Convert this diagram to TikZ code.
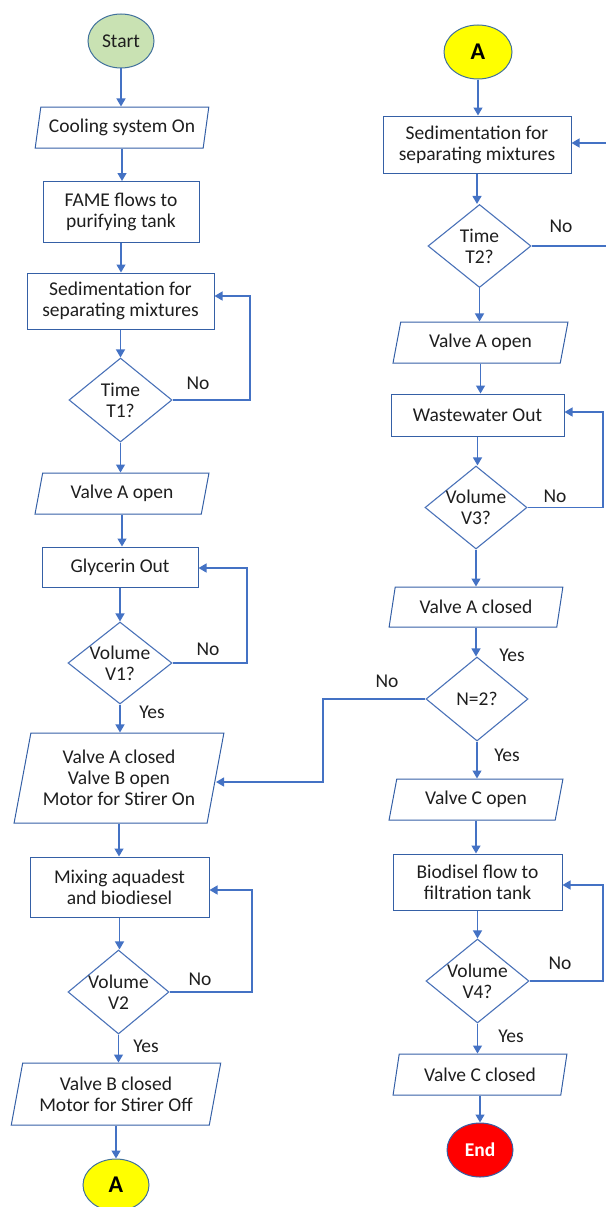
\documentclass[tikz,border=0pt]{standalone}
\usepackage{fontspec}
\setmainfont{Carlito}
\usetikzlibrary{shapes.geometric,arrows.meta}
\definecolor{linec}{HTML}{4472C4}
\definecolor{boxc}{HTML}{3560A6}
\definecolor{decc}{HTML}{4A72B8}
\definecolor{termc}{HTML}{41719C}
\definecolor{txt}{HTML}{1E1E1E}
\definecolor{startfill}{HTML}{C9E2B3}
\definecolor{yel}{HTML}{FFFF00}
\definecolor{redf}{HTML}{FF0000}
\begin{document}
\begin{tikzpicture}[x=1pt,y=-1pt,
  every node/.style={font=\fontsize{19.5}{21}\selectfont, text=txt},
  term/.style={ellipse, draw=termc, line width=1pt, inner sep=0pt, minimum width=66pt, minimum height=54pt},
  proc/.style={rectangle, draw=boxc, line width=1pt, inner sep=0pt, align=center},
  io/.style={trapezium, trapezium left angle=76, trapezium right angle=104, trapezium stretches=true, draw=boxc, line width=1pt, inner sep=2pt, align=center},
  dec/.style={diamond, draw=decc, line width=1.1pt, inner sep=-10pt, align=center},
  lbl/.style={inner sep=0pt},
  conn/.style={font=\fontsize{24}{26}\selectfont\bfseries, text=black},
  arr/.style={draw=linec, line width=1.3pt, -{Triangle[width=9pt,length=8pt]}}
]
\useasboundingbox (0,0) rectangle (605,1207);
% ---------- left column ----------
\node[term, fill=startfill] (start) at (121,41) {Start};
\node[io, minimum width=174pt, minimum height=41pt] (cool) at (122,127.5) {Cooling system On};
\node[proc, minimum width=156pt, minimum height=61pt] (fame) at (121,212) {FAME flows to\\purifying tank};
\node[proc, minimum width=187pt, minimum height=56pt] (sed1) at (120.5,301) {Sedimentation for\\separating mixtures};
\node[dec, minimum width=103pt, minimum height=84pt] (t1) at (120.5,400) {Time\\T1?};
\node[io, minimum width=174pt, minimum height=41pt] (vao1) at (122,493.5) {Valve A open};
\node[proc, minimum width=156pt, minimum height=40pt] (gly) at (120,567) {Glycerin Out};
\node[dec, minimum width=104pt, minimum height=82pt] (v1) at (120,663) {Volume\\V1?};
\node[io, minimum width=210pt, minimum height=90pt] (vac1) at (119,778) {Valve A closed\\Valve B open\\Motor for Stirer On};
\node[proc, minimum width=179pt, minimum height=60pt] (mix) at (119.5,887) {Mixing aquadest\\and biodiesel};
\node[dec, minimum width=101pt, minimum height=84pt] (v2) at (118.5,992) {Volume\\V2};
\node[io, minimum width=210pt, minimum height=62pt] (vbc) at (116,1094) {Valve B closed\\Motor for Stirer Off};
\node[term, fill=yel, minimum height=52pt, conn] (a1) at (116,1185) {A};
% ---------- right column ----------
\node[term, fill=yel, minimum width=68pt, conn] (a2) at (478,52) {A};
\node[proc, minimum width=188pt, minimum height=57pt] (sed2) at (477,144.5) {Sedimentation for\\separating mixtures};
\node[dec, minimum width=103pt, minimum height=83pt] (t2) at (479.5,246) {Time\\T2?};
\node[io, minimum width=175pt, minimum height=41pt] (vao2) at (480.5,342.5) {Valve A open};
\node[proc, minimum width=173pt, minimum height=42pt] (ww) at (477.5,415) {Wastewater Out};
\node[dec, minimum width=102pt, minimum height=83pt] (v3) at (476,507.5) {Volume\\V3?};
\node[io, minimum width=174pt, minimum height=40pt] (vac2) at (476,607) {Valve A closed};
\node[dec, minimum width=102pt, minimum height=84pt] (n2) at (477,699) {N=2?};
\node[io, minimum width=174pt, minimum height=41pt] (vco) at (476,799.5) {Valve C open};
\node[proc, minimum width=169pt, minimum height=56pt] (bio) at (477.5,882) {Biodisel flow to\\filtration tank};
\node[dec, minimum width=103pt, minimum height=84pt] (v4) at (477.5,981) {Volume\\V4?};
\node[io, minimum width=174pt, minimum height=41pt] (vcc) at (480,1074.5) {Valve C closed};
\node[term, fill=redf, draw=boxc, font=\fontsize{19.5}{21}\selectfont\bfseries, text=white] (end) at (480,1150) {End};
% ---------- labels ----------
\node[lbl] (l1) at (198,383) {No};
\node[lbl] (l2) at (208,649) {No};
\node[lbl] (l3) at (152,712) {Yes};
\node[lbl] (l4) at (200,979) {No};
\node[lbl] (l5) at (146,1046) {Yes};
\node[lbl] (l6) at (561,226) {No};
\node[lbl] (l7) at (555,496) {No};
\node[lbl] (l8) at (512,655) {Yes};
\node[lbl] (l9) at (387,681) {No};
\node[lbl] (l10) at (507,755) {Yes};
\node[lbl] (l11) at (560,963) {No};
\node[lbl] (l12) at (511,1036) {Yes};
% ---------- straight connectors ----------
\foreach \a/\b in {start/cool, cool/fame, fame/sed1, sed1/t1, t1/vao1, vao1/gly, gly/v1, v1/vac1, vac1/mix, mix/v2, v2/vbc, vbc/a1,
                   a2/sed2, sed2/t2, t2/vao2, vao2/ww, ww/v3, v3/vac2, vac2/n2, n2/vco, vco/bio, bio/v4, v4/vcc, vcc/end}
  \draw[arr] (\a.south) -- (\a.south |- \b.north);
% ---------- loops ----------
\coordinate (c1) at (250,296);
\draw[arr] (t1.east) -| (c1) -- (c1 -| sed1.east);
\coordinate (c2) at (247,568);
\draw[arr] (v1.east) -| (c2) -- (c2 -| gly.east);
\coordinate (c3) at (252,890);
\draw[arr] (v2.east) -| (c3) -- (c3 -| mix.east);
\coordinate (c4) at (609,143);
\draw[arr] (t2.east) -| (c4) -- (c4 -| sed2.east);
\coordinate (c5) at (603,412);
\draw[arr] (v3.east) -| (c5) -- (c5 -| ww.east);
\coordinate (c6) at (603,885);
\draw[arr] (v4.east) -| (c6) -- (c6 -| bio.east);
\coordinate (c7) at (323,782);
\draw[arr] (n2.west) -| (c7) -- (c7 -| vac1.east);
\end{tikzpicture}
\end{document}
